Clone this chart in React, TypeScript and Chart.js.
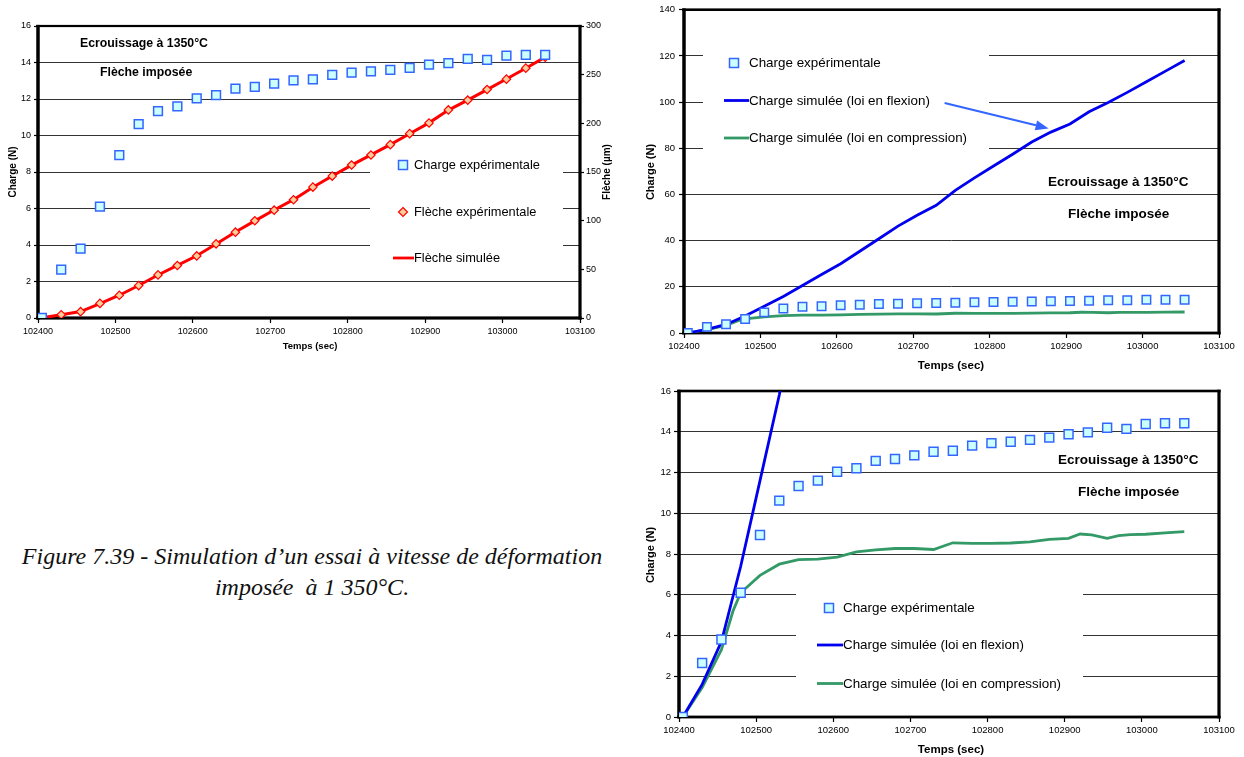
import React, { useEffect, useRef } from 'react';
import { Chart, registerables } from 'chart.js';

Chart.register(...registerables);

const SANS = "'Liberation Sans', Arial, sans-serif";

// ---------------- Data ----------------
const timeExp = [102405, 102430, 102455, 102480, 102505, 102530, 102555, 102580, 102605, 102630, 102655, 102680, 102705, 102730, 102755, 102780, 102805, 102830, 102855, 102880, 102905, 102930, 102955, 102980, 103005, 103030, 103055];
const chargeExp = [0, 2.65, 3.8, 6.1, 8.93, 10.62, 11.34, 11.6, 12.04, 12.21, 12.57, 12.66, 12.84, 13.02, 13.07, 13.32, 13.44, 13.51, 13.6, 13.71, 13.88, 13.97, 14.2, 14.14, 14.38, 14.42, 14.42];
const flecheExp = [0, 3.4, 6.5, 15, 23.3, 33.3, 44.3, 53.9, 63.8, 76.2, 88.2, 99.9, 110.8, 121.5, 134.5, 145.8, 157.2, 167.5, 178.1, 189.4, 200.4, 213.8, 223.8, 234.8, 245.4, 256.7, 267.9];

const timeFlecheSim = [102400, 102405, 102430, 102455, 102480, 102505, 102530, 102555, 102580, 102605, 102630, 102655, 102680, 102705, 102730, 102755, 102780, 102805, 102830, 102855, 102880, 102905, 102930, 102955, 102980, 103005, 103030, 103055];
const flecheSim = [0, 0.2, 3.3, 6.6, 14.8, 23.4, 33.4, 44.2, 54.0, 63.9, 76.0, 88.3, 99.8, 110.9, 121.6, 134.3, 145.9, 157.1, 167.6, 178.2, 189.3, 200.5, 213.6, 223.9, 234.7, 245.5, 256.6, 268.0];

const timeFlexion = [102405, 102430, 102455, 102480, 102505, 102530, 102555, 102580, 102605, 102630, 102655, 102680, 102705, 102730, 102755, 102780, 102805, 102830, 102855, 102880, 102905, 102930, 102955, 102980, 103005, 103030, 103055];
const chargeFlexion = [0, 1.6, 3.7, 7.4, 11.6, 15.8, 20.6, 25.3, 30.0, 35.4, 40.8, 46.3, 51.0, 55.3, 61.8, 67.2, 72.3, 77.4, 82.7, 87.0, 90.5, 95.8, 99.8, 104.2, 108.8, 113.4, 118.0];

const timeCompression = [102405, 102430, 102455, 102470, 102480, 102505, 102530, 102555, 102580, 102605, 102630, 102655, 102680, 102705, 102730, 102755, 102780, 102805, 102830, 102855, 102880, 102905, 102920, 102935, 102955, 102970, 102985, 103005, 103030, 103055];
const chargeCompression = [0, 1.45, 3.3, 5.2, 6.1, 6.95, 7.5, 7.72, 7.75, 7.85, 8.1, 8.2, 8.27, 8.27, 8.22, 8.55, 8.52, 8.52, 8.54, 8.6, 8.72, 8.77, 8.98, 8.94, 8.77, 8.9, 8.95, 8.97, 9.04, 9.1];

const xTicks = [102400, 102500, 102600, 102700, 102800, 102900, 103000, 103100];
const yTicksCharge16 = [0, 2, 4, 6, 8, 10, 12, 14, 16];
const yTicksFleche = [0, 50, 100, 150, 200, 250, 300];
const yTicksCharge140 = [0, 20, 40, 60, 80, 100, 120, 140];

const pts = (xs: number[], ys: number[]) => xs.map((x, i) => ({ x, y: ys[i] }));

// ---------------- Styles ----------------
const SQ_FILL = '#ccffff';
const SQ_BORDER = '#3366ff';
const DIA_FILL = '#ffcc99';
const RED = '#ff0000';
const BLUE = '#0000ee';
const GREEN = '#339966';

type Box = { x: number; y: number; w: number; h: number };
type LegendItem = { kind: 'square' | 'diamond' | 'line'; color?: string; mx: number; mx2?: number; y: number; tx: number; text: string };
type Txt = { text: string; x: number; y: number; font: string; rotate?: boolean; align?: CanvasTextAlign };
type Overlay = {
  boxes: Box[];
  legend: LegendItem[];
  legendFont: string;
  texts: Txt[];
  arrow?: { from: { x: number; y: number }; to: { x: number; y: number }; color: string };
  frame: { left: number; right: number; top: number; bottom: number };
};

function drawSquare(ctx: CanvasRenderingContext2D, cx: number, cy: number, s: number) {
  ctx.fillStyle = SQ_FILL;
  ctx.fillRect(cx - s / 2, cy - s / 2, s, s);
  ctx.strokeStyle = SQ_BORDER;
  ctx.lineWidth = 1.5;
  ctx.strokeRect(cx - s / 2, cy - s / 2, s, s);
}

function drawDiamond(ctx: CanvasRenderingContext2D, cx: number, cy: number, r: number) {
  ctx.beginPath();
  ctx.moveTo(cx, cy - r);
  ctx.lineTo(cx + r, cy);
  ctx.lineTo(cx, cy + r);
  ctx.lineTo(cx - r, cy);
  ctx.closePath();
  ctx.fillStyle = DIA_FILL;
  ctx.fill();
  ctx.strokeStyle = RED;
  ctx.lineWidth = 1.2;
  ctx.stroke();
}

function makeOverlay(o: Overlay) {
  return {
    id: 'overlay',
    beforeDatasetsDraw(chart: any) {
      const ctx: CanvasRenderingContext2D = chart.ctx;
      const { left, top, right, bottom } = chart.chartArea;
      ctx.save();
      ctx.fillStyle = '#ffffff';
      o.boxes.forEach((b) => ctx.fillRect(b.x, b.y, b.w, b.h));
      // frame
      ctx.fillStyle = '#000';
      const f = o.frame;
      ctx.fillRect(left - f.left / 2, top - f.top / 2, f.left, bottom - top + f.top / 2 + f.bottom / 2);
      ctx.fillRect(right - f.right / 2, top - f.top / 2, f.right, bottom - top + f.top / 2 + f.bottom / 2);
      ctx.fillRect(left - f.left / 2, top - f.top / 2, right - left + f.left / 2 + f.right / 2, f.top);
      ctx.fillRect(left - f.left / 2, bottom - f.bottom / 2, right - left + f.left / 2 + f.right / 2, f.bottom);
      // legend
      ctx.font = o.legendFont;
      ctx.textBaseline = 'middle';
      ctx.textAlign = 'left';
      o.legend.forEach((it) => {
        if (it.kind === 'square') drawSquare(ctx, it.mx, it.y, 9);
        else if (it.kind === 'diamond') drawDiamond(ctx, it.mx, it.y, 4.5);
        else {
          ctx.strokeStyle = it.color || '#000';
          ctx.lineWidth = 2.8;
          ctx.beginPath();
          ctx.moveTo(it.mx, it.y);
          ctx.lineTo(it.mx2 || it.mx + 20, it.y);
          ctx.stroke();
        }
        ctx.fillStyle = '#000';
        ctx.font = o.legendFont;
        ctx.fillText(it.text, it.tx, it.y + 0.5);
      });
      ctx.restore();
    },
    afterDraw(chart: any) {
      const ctx: CanvasRenderingContext2D = chart.ctx;
      ctx.save();
      o.texts.forEach((t) => {
        ctx.font = t.font;
        ctx.fillStyle = '#000';
        ctx.textBaseline = 'middle';
        ctx.textAlign = t.align || 'left';
        if (t.rotate) {
          ctx.save();
          ctx.translate(t.x, t.y);
          ctx.rotate(-Math.PI / 2);
          ctx.fillText(t.text, 0, 0);
          ctx.restore();
        } else {
          ctx.fillText(t.text, t.x, t.y);
        }
      });
      if (o.arrow) {
        const xs = chart.scales.x;
        const ys = chart.scales.y;
        const x0 = xs.getPixelForValue(o.arrow.from.x);
        const y0 = ys.getPixelForValue(o.arrow.from.y);
        const x1 = xs.getPixelForValue(o.arrow.to.x);
        const y1 = ys.getPixelForValue(o.arrow.to.y);
        const ang = Math.atan2(y1 - y0, x1 - x0);
        const hl = 13;
        const hw = 5;
        const bx = x1 - hl * Math.cos(ang);
        const by = y1 - hl * Math.sin(ang);
        ctx.strokeStyle = o.arrow.color;
        ctx.fillStyle = o.arrow.color;
        ctx.lineWidth = 2;
        ctx.beginPath();
        ctx.moveTo(x0, y0);
        ctx.lineTo(bx, by);
        ctx.stroke();
        ctx.beginPath();
        ctx.moveTo(x1, y1);
        ctx.lineTo(bx + hw * Math.sin(ang), by - hw * Math.cos(ang));
        ctx.lineTo(bx - hw * Math.sin(ang), by + hw * Math.cos(ang));
        ctx.closePath();
        ctx.fill();
      }
      ctx.restore();
    },
  };
}

function linScale(p: {
  position: string; min: number; max: number; ticks: number[]; width?: number; height?: number;
  font: number; grid: boolean; tickLength: number; pad: number;
}) {
  return {
    type: 'linear',
    position: p.position,
    min: p.min,
    max: p.max,
    afterBuildTicks: (s: any) => { s.ticks = p.ticks.map((v) => ({ value: v })); },
    afterFit: (s: any) => {
      if (p.width != null) s.width = p.width;
      if (p.height != null) s.height = p.height;
    },
    ticks: {
      font: { family: SANS, size: p.font },
      color: '#000',
      padding: p.pad,
      maxRotation: 0,
      autoSkip: false,
      callback: (v: any) => String(v),
    },
    grid: {
      drawOnChartArea: p.grid,
      color: '#333',
      lineWidth: 1,
      drawTicks: true,
      tickLength: p.tickLength,
      tickColor: '#000',
      tickWidth: 1.2,
    },
    border: { display: false },
  };
}

const squareDs = (label: string, r: number) => ({
  label,
  data: pts(timeExp, chargeExp),
  yAxisID: 'y',
  showLine: false,
  pointStyle: 'rect',
  pointRadius: r,
  pointBackgroundColor: SQ_FILL,
  pointBorderColor: SQ_BORDER,
  pointBorderWidth: 1.5,
  order: 0,
});

const lineDs = (label: string, xs: number[], ys: number[], color: string, axis: string, order: number, extra: any = {}) => ({
  label,
  data: pts(xs, ys),
  yAxisID: axis,
  showLine: true,
  borderColor: color,
  borderWidth: 2.8,
  pointRadius: 0,
  tension: 0,
  fill: false,
  order,
  ...extra,
});

function buildChart1() {
  return {
    type: 'scatter',
    data: {
      datasets: [
        squareDs('Charge expérimentale', 6.2),
        {
          label: 'Flèche expérimentale',
          data: pts(timeExp, flecheExp),
          yAxisID: 'y2',
          showLine: false,
          pointStyle: 'rectRot',
          pointRadius: 4.2,
          pointBackgroundColor: DIA_FILL,
          pointBorderColor: RED,
          pointBorderWidth: 1.2,
          order: 1,
        },
        lineDs('Flèche simulée', timeFlecheSim, flecheSim, RED, 'y2', 2, { borderWidth: 3 }),
      ],
    },
    options: {
      responsive: false,
      animation: false,
      events: [],
      layout: { padding: { top: 26, left: 0, right: 0, bottom: 0 } },
      plugins: { legend: { display: false }, tooltip: { enabled: false } },
      scales: {
        x: linScale({ position: 'bottom', min: 102400, max: 103100, ticks: xTicks, height: 42, font: 9, grid: false, tickLength: 5, pad: 3 }),
        y: linScale({ position: 'left', min: 0, max: 16, ticks: yTicksCharge16, width: 38, font: 9, grid: true, tickLength: 4, pad: 3 }),
        y2: linScale({ position: 'right', min: 0, max: 300, ticks: yTicksFleche, width: 40, font: 9, grid: false, tickLength: 4, pad: 2 }),
      },
    },
    plugins: [
      makeOverlay({
        boxes: [{ x: 370, y: 150, w: 193, h: 129 }],
        legendFont: `12.8px ${SANS}`,
        legend: [
          { kind: 'square', mx: 403, y: 165, tx: 414, text: 'Charge expérimentale' },
          { kind: 'diamond', mx: 403, y: 212, tx: 414, text: 'Flèche expérimentale' },
          { kind: 'line', color: RED, mx: 393, mx2: 414, y: 258, tx: 414, text: 'Flèche simulée' },
        ],
        texts: [
          { text: 'Ecrouissage à 1350°C', x: 80, y: 44, font: `bold 12.3px ${SANS}` },
          { text: 'Flèche imposée', x: 100, y: 73, font: `bold 12.3px ${SANS}` },
          { text: 'Charge (N)', x: 13, y: 172, font: `bold 10px ${SANS}`, rotate: true, align: 'center' },
          { text: 'Flèche (µm)', x: 607, y: 172, font: `bold 10px ${SANS}`, rotate: true, align: 'center' },
          { text: 'Temps (sec)', x: 310, y: 346, font: `bold 9.5px ${SANS}`, align: 'center' },
        ],
        frame: { left: 3.5, right: 3.2, top: 2.2, bottom: 3.2 },
      }),
    ],
  };
}

function buildChart2() {
  return {
    type: 'scatter',
    data: {
      datasets: [
        squareDs('Charge expérimentale', 6.0),
        lineDs('Charge simulée (loi en flexion)', timeFlexion, chargeFlexion, BLUE, 'y', 1),
        lineDs('Charge simulée (loi en compression)', timeCompression, chargeCompression, GREEN, 'y', 2),
      ],
    },
    options: {
      responsive: false,
      animation: false,
      events: [],
      layout: { padding: { top: 7, left: 0, right: 25, bottom: 0 } },
      plugins: { legend: { display: false }, tooltip: { enabled: false } },
      scales: {
        x: linScale({ position: 'bottom', min: 102400, max: 103100, ticks: xTicks, height: 47, font: 9.5, grid: false, tickLength: 5, pad: 3 }),
        y: linScale({ position: 'left', min: 0, max: 140, ticks: yTicksCharge140, width: 54, font: 9.5, grid: true, tickLength: 5, pad: 4 }),
      },
    },
    plugins: [
      makeOverlay({
        boxes: [{ x: 73, y: 30, w: 286, h: 140 }],
        legendFont: `13.4px ${SANS}`,
        legend: [
          { kind: 'square', mx: 104, y: 63, tx: 119, text: 'Charge expérimentale' },
          { kind: 'line', color: BLUE, mx: 94, mx2: 119, y: 100.5, tx: 119, text: 'Charge simulée (loi en flexion)' },
          { kind: 'line', color: GREEN, mx: 94, mx2: 119, y: 138, tx: 119, text: 'Charge simulée (loi en compression)' },
        ],
        texts: [
          { text: 'Ecrouissage à 1350°C', x: 418, y: 182, font: `bold 13.5px ${SANS}` },
          { text: 'Flèche imposée', x: 438, y: 214, font: `bold 13.5px ${SANS}` },
          { text: 'Charge (N)', x: 21, y: 172, font: `bold 11px ${SANS}`, rotate: true, align: 'center' },
          { text: 'Temps (sec)', x: 321, y: 366, font: `bold 11.5px ${SANS}`, align: 'center' },
        ],
        arrow: { from: { x: 102741, y: 99.6 }, to: { x: 102877, y: 88.6 }, color: '#3366ff' },
        frame: { left: 3.5, right: 3.2, top: 2.6, bottom: 2.8 },
      }),
    ],
  };
}

function buildChart3() {
  return {
    type: 'scatter',
    data: {
      datasets: [
        squareDs('Charge expérimentale', 6.3),
        lineDs('Charge simulée (loi en flexion)', timeFlexion, chargeFlexion, BLUE, 'y', 1, { clip: 0 }),
        lineDs('Charge simulée (loi en compression)', timeCompression, chargeCompression, GREEN, 'y', 2),
      ],
    },
    options: {
      responsive: false,
      animation: false,
      events: [],
      layout: { padding: { top: 11, left: 0, right: 25, bottom: 0 } },
      plugins: { legend: { display: false }, tooltip: { enabled: false } },
      scales: {
        x: linScale({ position: 'bottom', min: 102400, max: 103100, ticks: xTicks, height: 40, font: 9.5, grid: false, tickLength: 5, pad: 3 }),
        y: linScale({ position: 'left', min: 0, max: 16, ticks: yTicksCharge16, width: 49, font: 9.5, grid: true, tickLength: 5, pad: 3 }),
      },
    },
    plugins: [
      makeOverlay({
        boxes: [{ x: 166, y: 195, w: 287, h: 130 }],
        legendFont: `13.4px ${SANS}`,
        legend: [
          { kind: 'square', mx: 199, y: 228, tx: 213, text: 'Charge expérimentale' },
          { kind: 'line', color: BLUE, mx: 187, mx2: 213, y: 265, tx: 213, text: 'Charge simulée (loi en flexion)' },
          { kind: 'line', color: GREEN, mx: 187, mx2: 213, y: 303.5, tx: 213, text: 'Charge simulée (loi en compression)' },
        ],
        texts: [
          { text: 'Ecrouissage à 1350°C', x: 428, y: 80, font: `bold 13.5px ${SANS}` },
          { text: 'Flèche imposée', x: 448, y: 112, font: `bold 13.5px ${SANS}` },
          { text: 'Charge (N)', x: 21, y: 175, font: `bold 11px ${SANS}`, rotate: true, align: 'center' },
          { text: 'Temps (sec)', x: 321, y: 370, font: `bold 11.5px ${SANS}`, align: 'center' },
        ],
        frame: { left: 3.5, right: 3.2, top: 2.6, bottom: 2.8 },
      }),
    ],
  };
}

function ChartBox({ left, top, width, height, build }: { left: number; top: number; width: number; height: number; build: () => any }) {
  const ref = useRef<HTMLCanvasElement>(null);
  useEffect(() => {
    const chart = new Chart(ref.current as HTMLCanvasElement, build());
    return () => chart.destroy();
  }, []);
  return (
    <div style={{ position: 'absolute', left, top, width, height }}>
      <canvas ref={ref} width={width} height={height} style={{ width, height, display: 'block' }} />
    </div>
  );
}

export default function App() {
  return (
    <div style={{ position: 'absolute', left: 0, top: 0, width: 1244, height: 757, background: '#fff', overflow: 'hidden' }}>
      <ChartBox left={0} top={0} width={620} height={360} build={buildChart1} />
      <ChartBox left={630} top={0} width={614} height={380} build={buildChart2} />
      <ChartBox left={630} top={380} width={614} height={377} build={buildChart3} />
      <div
        style={{
          position: 'absolute',
          left: 0,
          top: 541,
          width: 624,
          textAlign: 'center',
          fontFamily: "'Liberation Serif', 'Times New Roman', serif",
          fontStyle: 'italic',
          fontSize: 24,
          lineHeight: '31px',
          whiteSpace: 'pre',
          color: '#111',
        }}
      >
        {'Figure 7.39 - Simulation d\u2019un essai à vitesse de déformation\nimposée  à 1 350°C.'}
      </div>
    </div>
  );
}
